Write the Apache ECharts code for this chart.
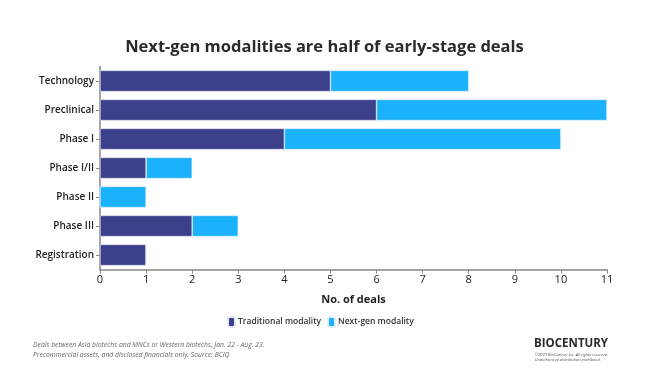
<!DOCTYPE html>
<html><head><meta charset="utf-8">
<script src="https://cdn.jsdelivr.net/npm/echarts@6/dist/echarts.min.js"></script>
<style>html,body{margin:0;padding:0;background:#fff}#c{width:649px;height:391px}</style>
</head><body><div id="c"></div>
<script>
const categories = ['Technology','Preclinical','Phase I','Phase I/II','Phase II','Phase III','Registration'];
const traditional = [5, 6, 4, 1, 0, 2, 1];
const nextGen = [3, 5, 6, 1, 1, 1, 0];
const xTicks = [0,1,2,3,4,5,6,7,8,9,10,11];

const chart = echarts.init(document.getElementById('c'), null, {renderer:'canvas'});
const F = '"Open Sans", "Noto Sans", sans-serif';
chart.setOption({
  backgroundColor:'#fff',
  animation:false,
  title:{text:'Next-gen modalities are half of early-stage deals', left:'center', top:34,
    textStyle:{fontFamily:F, fontSize:16.5, fontWeight:'bold', color:'#2b2b2b'}},
  legend:{bottom:58, left:222, itemWidth:7, itemHeight:10, itemGap:6,
    icon:'roundRect',
    textStyle:{fontFamily:F, fontSize:8.5, fontWeight:600, color:'#333', padding:[0,0,0,-2]},
    data:['Traditional modality','Next-gen modality']},
  grid:{left:100, right:42, top:66.5, bottom:121.5, containLabel:false},
  xAxis:{type:'value', min:0, max:11, interval:1,
    name:'No. of deals', nameLocation:'middle', nameGap:25,
    nameTextStyle:{fontFamily:F, fontSize:11, fontWeight:'bold', color:'#222'},
    axisLine:{show:true, lineStyle:{color:'#888', width:1.5}},
    axisTick:{show:true, length:4, lineStyle:{color:'#888'}},
    axisLabel:{fontFamily:F, fontSize:11, color:'#222', margin:5,
      formatter:v=>xTicks.includes(v)?String(v):''},
    splitLine:{show:false}},
  yAxis:{type:'category', data:categories, inverse:true,
    axisLine:{show:true, lineStyle:{color:'#888', width:1.5}},
    axisTick:{show:true, length:4, alignWithLabel:true, lineStyle:{color:'#888'}},
    axisLabel:{fontFamily:F, fontSize:10, fontWeight:600, color:'#222', margin:6}},
  series:[
    {name:'Traditional modality', type:'bar', stack:'a', data:traditional, barCategoryGap:'27%',
      itemStyle:{color:'#3c3f8a', borderColor:'#e8e8f4', borderWidth:0.6}},
    {name:'Next-gen modality', type:'bar', stack:'a', data:nextGen,
      itemStyle:{color:'#1cb2fb', borderColor:'#e0f2ff', borderWidth:0.6}}
  ],
  graphic:[
    {type:'text', left:33, top:340, style:{text:'Deals between Asia biotechs and MNCs or Western biotechs, Jan. 22 - Aug. 23.\nPrecommercial assets, and disclosed financials only. Source: BCIQ',
      font:'italic 6.8px '+F, fill:'#666', lineHeight:10}},
    {type:'text', right:41, top:338, style:{text:'BIOCENTURY', font:'bold 11.5px '+F, fill:'#2a2a2a'}},
    {type:'text', right:41, top:352, style:{text:'©2023 BioCentury Inc. All rights reserved.\nUnauthorized distribution prohibited.',
      font:'italic 4px '+F, fill:'#555', align:'right', lineHeight:5}}
  ]
});
</script></body></html>
